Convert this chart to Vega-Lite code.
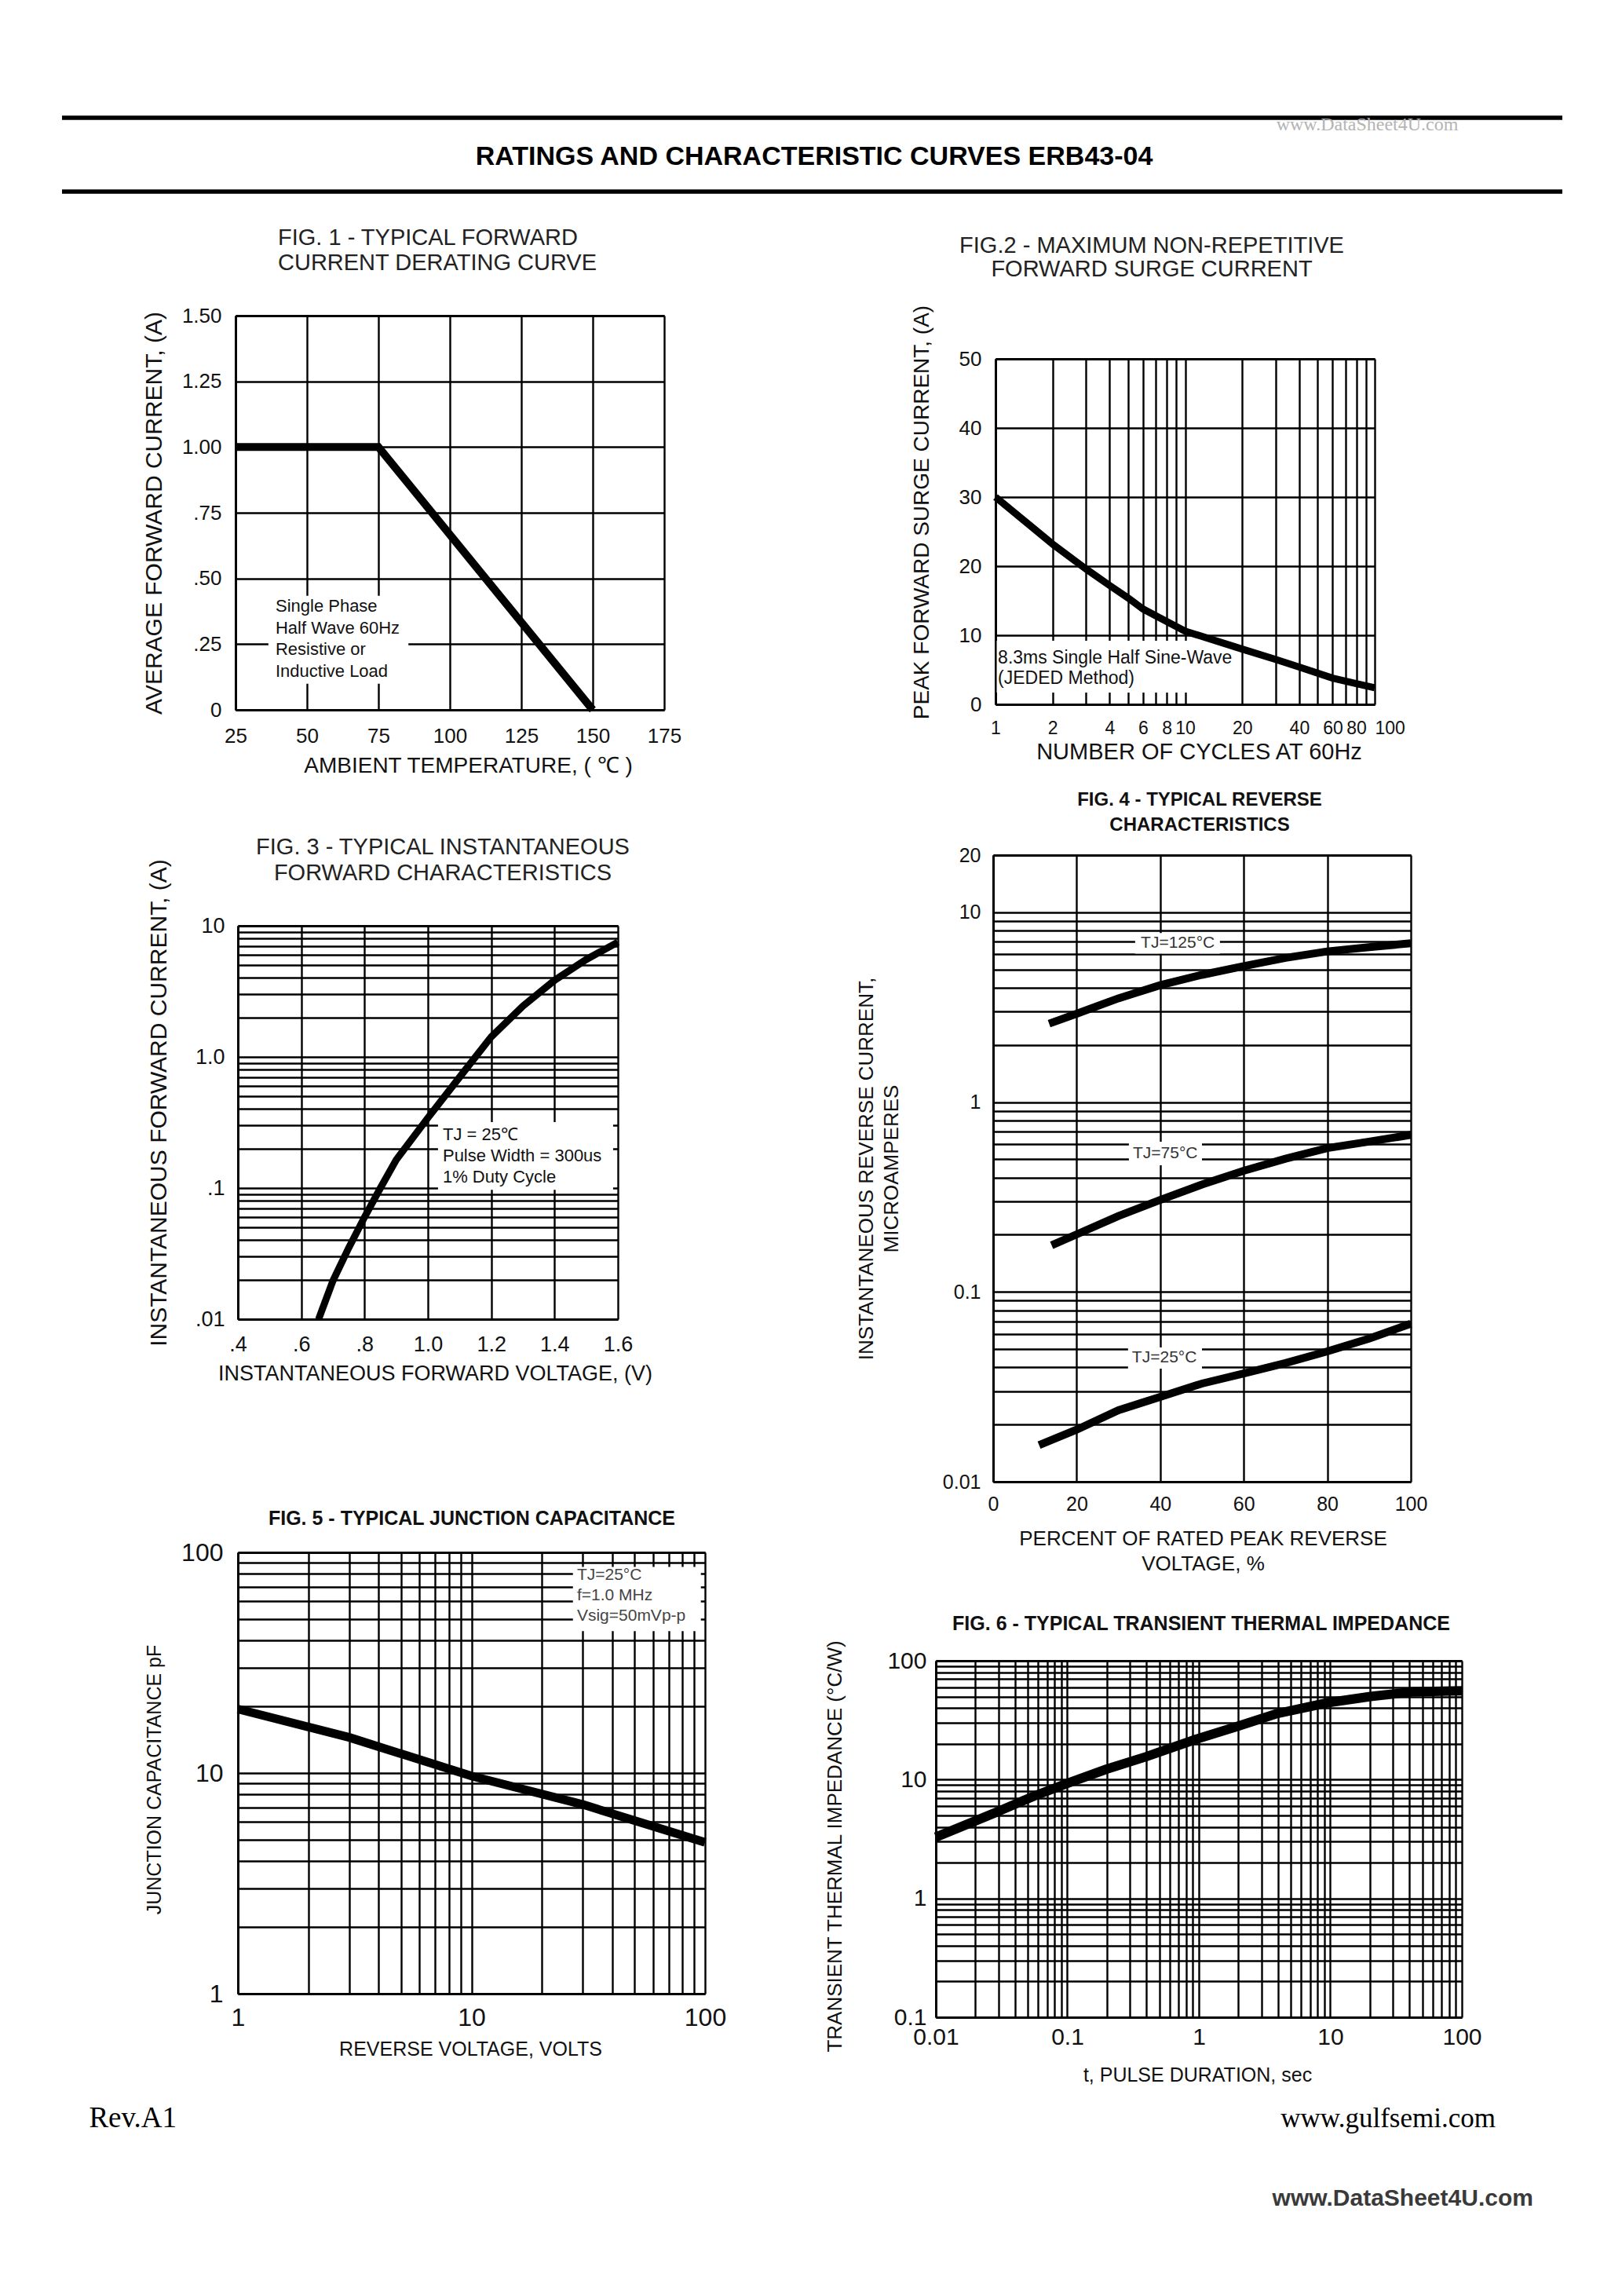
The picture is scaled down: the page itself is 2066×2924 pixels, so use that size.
{
  "$schema": "https://vega.github.io/schema/vega-lite/v6.json",
  "autosize": {"type": "pad"},
  "padding": {"left": 76, "top": 146, "right": 10, "bottom": 10},
  "background": "#ffffff",
  "config": {
    "view": {"stroke": null},
    "font": "Liberation Sans",
    "axis": {"grid": true, "gridColor": "#000", "gridWidth": 2.4, "gridOpacity": 1, "domain": true, "domainColor": "#000", "domainWidth": 3, "ticks": false, "labelColor": "#111", "titleColor": "#111", "labelFont": "Liberation Sans", "titleFont": "Liberation Sans", "titleFontWeight": "normal", "labelFlush": false, "labelOverlap": false, "labelBound": false},
    "title": {"font": "Liberation Sans", "fontWeight": "normal", "color": "#222", "frame": "group", "anchor": "start"}
  },
  "datasets": {
    "header_rules": [{"y": 1}, {"y": 0}],
    "header_title": [{"x": 0.5013, "y": 0.362, "label": "RATINGS AND CHARACTERISTIC CURVES ERB43-04"}],
    "header_mark": [{"x": 0.87, "y": 0.83, "label": "www.DataSheet4U.com"}],
    "footer_left": [{"x": 0.018, "y": 0.4615, "label": "Rev.A1"}],
    "footer_right": [{"x": 0.9555, "y": 0.4615, "label": "www.gulfsemi.com"}],
    "footer_mark": [{"x": 0.9806, "y": 0.0769, "label": "www.DataSheet4U.com"}],
    "fig1_curve": [{"x": 25, "y": 1}, {"x": 75, "y": 1}, {"x": 150, "y": 0}],
    "fig1_box": [{"x": 36.5, "x2": 85.5, "y": 0.099, "y2": 0.434}],
    "fig1_note": [
      {"x": 39, "y": 0.394, "label": "Single Phase"},
      {"x": 39, "y": 0.311, "label": "Half Wave 60Hz"},
      {"x": 39, "y": 0.23, "label": "Resistive or"},
      {"x": 39, "y": 0.146, "label": "Inductive Load"}
    ],
    "fig2_curve": [
      {"x": 1, "y": 30}, {"x": 2, "y": 23.2}, {"x": 3, "y": 19.6}, {"x": 4, "y": 17.2}, {"x": 5, "y": 15.4},
      {"x": 6, "y": 13.8}, {"x": 8, "y": 12}, {"x": 10, "y": 10.6}, {"x": 20, "y": 8}, {"x": 30, "y": 6.5},
      {"x": 40, "y": 5.4}, {"x": 60, "y": 3.8}, {"x": 80, "y": 3}, {"x": 100, "y": 2.4}
    ],
    "fig2_box": [{"x": 1.015, "x2": 18, "y": 1.7, "y2": 9.2}],
    "fig2_note": [
      {"x": 1.03, "y": 6.7, "label": "8.3ms Single Half Sine-Wave"},
      {"x": 1.03, "y": 3.75, "label": "(JEDED Method)"}
    ],
    "fig3_curve": [
      {"x": 0.655, "y": 0.01}, {"x": 0.7, "y": 0.0196}, {"x": 0.75, "y": 0.035}, {"x": 0.8, "y": 0.06},
      {"x": 0.85, "y": 0.1}, {"x": 0.9, "y": 0.164}, {"x": 1.0, "y": 0.343}, {"x": 1.1, "y": 0.7},
      {"x": 1.2, "y": 1.42}, {"x": 1.3, "y": 2.44}, {"x": 1.4, "y": 3.84}, {"x": 1.5, "y": 5.53}, {"x": 1.6, "y": 7.5}
    ],
    "fig3_box": [{"x": 1.032, "x2": 1.585, "y": 0.097, "y2": 0.318}],
    "fig3_note": [
      {"x": 1.047, "y": 0.255, "label": "TJ = 25℃"},
      {"x": 1.047, "y": 0.176, "label": "Pulse Width = 300us"},
      {"x": 1.047, "y": 0.121, "label": "1% Duty Cycle"}
    ],
    "fig4_curves": [
      {"series": "125", "x": 13.4, "y": 2.59}, {"series": "125", "x": 20, "y": 2.92}, {"series": "125", "x": 30, "y": 3.52},
      {"series": "125", "x": 40, "y": 4.13}, {"series": "125", "x": 50, "y": 4.68}, {"series": "125", "x": 60, "y": 5.2},
      {"series": "125", "x": 70, "y": 5.75}, {"series": "125", "x": 80, "y": 6.22}, {"series": "125", "x": 90, "y": 6.55},
      {"series": "125", "x": 100, "y": 6.86},
      {"series": "75", "x": 14, "y": 0.176}, {"series": "75", "x": 20, "y": 0.201}, {"series": "75", "x": 30, "y": 0.251},
      {"series": "75", "x": 40, "y": 0.305}, {"series": "75", "x": 50, "y": 0.368}, {"series": "75", "x": 60, "y": 0.435},
      {"series": "75", "x": 70, "y": 0.503}, {"series": "75", "x": 80, "y": 0.572}, {"series": "75", "x": 90, "y": 0.619},
      {"series": "75", "x": 100, "y": 0.672},
      {"series": "25", "x": 11, "y": 0.0156}, {"series": "25", "x": 20, "y": 0.0188}, {"series": "25", "x": 30, "y": 0.0238},
      {"series": "25", "x": 40, "y": 0.028}, {"series": "25", "x": 50, "y": 0.0329}, {"series": "25", "x": 60, "y": 0.0372},
      {"series": "25", "x": 70, "y": 0.0422}, {"series": "25", "x": 80, "y": 0.0486}, {"series": "25", "x": 90, "y": 0.0567},
      {"series": "25", "x": 100, "y": 0.068}
    ],
    "fig4_boxes": [
      {"x": 34, "x2": 54.3, "y": 6.05, "y2": 7.78},
      {"x": 32.5, "x2": 50, "y": 0.465, "y2": 0.618},
      {"x": 32.3, "x2": 50, "y": 0.0394, "y2": 0.051}
    ],
    "fig4_labels": [
      {"x": 44.2, "y": 6.88, "label": "TJ=125°C"},
      {"x": 41.2, "y": 0.536, "label": "TJ=75°C"},
      {"x": 41, "y": 0.0451, "label": "TJ=25°C"}
    ],
    "fig5_curve": [{"x": 1, "y": 19.5}, {"x": 3, "y": 14.5}, {"x": 10, "y": 9.7}, {"x": 30, "y": 7.2}, {"x": 100, "y": 4.85}],
    "fig5_box": [{"x": 27.2, "x2": 96, "y": 44, "y2": 86}],
    "fig5_note": [
      {"x": 28.3, "y": 78.8, "label": "TJ=25°C"},
      {"x": 28.3, "y": 63.7, "label": "f=1.0 MHz"},
      {"x": 28.3, "y": 51.5, "label": "Vsig=50mVp-p"}
    ],
    "fig6_curve": [
      {"x": 0.01, "y": 3.28}, {"x": 0.0197, "y": 4.46}, {"x": 0.0294, "y": 5.36}, {"x": 0.056, "y": 7.28},
      {"x": 0.1, "y": 9.3}, {"x": 0.197, "y": 12.2}, {"x": 0.398, "y": 15.6}, {"x": 0.96, "y": 21.9},
      {"x": 1.95, "y": 28}, {"x": 3.84, "y": 35.7}, {"x": 9.5, "y": 44.3}, {"x": 20.2, "y": 50},
      {"x": 43, "y": 54.9}, {"x": 100, "y": 55.9}
    ]
  },
  "columns": 2,
  "align": "each",
  "bounds": "flush",
  "spacing": 0,
  "concat": [
    {
      "width": 1113, "height": 94,
      "layer": [
        {"data": {"name": "header_rules"}, "mark": {"type": "rule", "color": "#000", "strokeWidth": 5.5},
         "encoding": {"x": {"datum": 0, "type": "quantitative", "scale": {"domain": [0, 1], "range": [0, 1911]}, "axis": null},
                      "x2": {"datum": 1},
                      "y": {"field": "y", "type": "quantitative", "scale": {"domain": [0, 1]}, "axis": null}}},
        {"data": {"name": "header_title"}, "mark": {"type": "text", "fontWeight": "bold", "fontSize": 34, "align": "center", "baseline": "alphabetic", "color": "#000"},
         "encoding": {"x": {"field": "x", "type": "quantitative", "scale": {"domain": [0, 1], "range": [0, 1911]}, "axis": null},
                      "y": {"field": "y", "type": "quantitative", "scale": {"domain": [0, 1]}, "axis": null},
                      "text": {"field": "label"}}},
        {"data": {"name": "header_mark"}, "mark": {"type": "text", "font": "Liberation Serif", "fontSize": 24, "align": "center", "baseline": "alphabetic", "color": "#b4b4b4"},
         "encoding": {"x": {"field": "x", "type": "quantitative", "scale": {"domain": [0, 1], "range": [0, 1911]}, "axis": null},
                      "y": {"field": "y", "type": "quantitative", "scale": {"domain": [0, 1]}, "axis": null},
                      "text": {"field": "label"}}}
      ]
    },
    {"width": 1, "height": 1, "mark": {"type": "text", "text": ""}},

    {
      "width": 767, "height": 660,
      "title": {"text": ["FIG. 1 - TYPICAL FORWARD", "CURRENT DERATING CURVE"], "align": "left", "dx": 275, "offset": -106, "fontSize": 29, "lineHeight": 32},
      "resolve": {"axis": {"x": "independent"}},
      "encoding": {
        "y": {"field": "y", "type": "quantitative", "scale": {"domain": [0, 1.5], "range": [660, 158], "nice": false, "zero": false},
              "axis": {"offset": -221, "values": [0, 0.25, 0.5, 0.75, 1, 1.25, 1.5], "labelExpr": "datum.value == 0 ? '0' : datum.value < 1 ? '.' + substring(format(datum.value, '.2f'), 2) : format(datum.value, '.2f')", "title": "AVERAGE FORWARD  CURRENT, (A)", "labelFontSize": 26, "labelPadding": 18, "titleFontSize": 30, "titleX": -104, "titleY": 409, "titleBaseline": "middle"}}
      },
      "layer": [
        {"data": {"name": "fig1_box"}, "mark": {"type": "rect", "color": "#fff"},
         "encoding": {"x": {"field": "x", "type": "quantitative", "scale": {"domain": [25, 175], "range": [221, 767], "nice": false, "zero": false},
                            "axis": {"orient": "bottom", "grid": false, "values": [25, 50, 75, 100, 125, 150, 175], "title": "AMBIENT TEMPERATURE, ( ℃ )", "labelFontSize": 26, "labelPadding": 20, "titleFontSize": 28, "titleX": 517, "titleY": 71, "titleBaseline": "middle"}},
                      "x2": {"field": "x2"}, "y2": {"field": "y2"}}},
        {"data": {"name": "fig1_curve"}, "mark": {"type": "line", "color": "#000", "strokeWidth": 10},
         "encoding": {"x": {"field": "x", "type": "quantitative", "scale": {"domain": [25, 175], "range": [221, 767], "nice": false, "zero": false},
                            "axis": {"orient": "top", "offset": -158, "grid": true, "labels": false, "title": null, "values": [25, 50, 75, 100, 125, 150, 175]}}}},
        {"data": {"name": "fig1_note"}, "mark": {"type": "text", "align": "left", "baseline": "middle", "fontSize": 22, "color": "#111"},
         "encoding": {"x": {"field": "x", "type": "quantitative", "scale": {"domain": [25, 175], "range": [221, 767], "nice": false, "zero": false}, "axis": null},
                      "text": {"field": "label"}}}
      ]
    },
    {
      "width": 559, "height": 653,
      "title": {"text": ["FIG.2  - MAXIMUM NON-REPETITIVE", "FORWARD SURGE CURRENT"], "align": "center", "dx": 275, "offset": -114, "fontSize": 29, "lineHeight": 30},
      "resolve": {"axis": {"x": "independent"}},
      "encoding": {
        "y": {"field": "y", "type": "quantitative", "scale": {"domain": [0, 50], "range": [653, 213], "nice": false, "zero": false},
              "axis": {"offset": -76, "values": [0, 10, 20, 30, 40, 50], "title": "PEAK FORWARD SURGE CURRENT, (A)", "labelFontSize": 26, "labelPadding": 18, "titleFontSize": 28, "titleX": -94, "titleY": 408, "titleBaseline": "middle"}}
      },
      "layer": [
        {"data": {"name": "fig2_box"}, "mark": {"type": "rect", "color": "#fff"},
         "encoding": {"x": {"field": "x", "type": "quantitative", "scale": {"type": "log", "domain": [1, 100], "range": [76, 559], "nice": false},
                            "axis": {"orient": "bottom", "grid": false, "values": [1, 2, 4, 6, 8, 10, 20, 40, 60, 80, 100], "labelAlign": {"condition": {"test": "datum.value === 100", "value": "left"}, "value": "center"}, "title": "NUMBER OF CYCLES AT 60Hz", "labelFontSize": 23, "labelPadding": 19, "titleFontSize": 29, "titleX": 335, "titleY": 60, "titleBaseline": "middle"}},
                      "x2": {"field": "x2"}, "y2": {"field": "y2"}}},
        {"data": {"name": "fig2_curve"}, "mark": {"type": "line", "color": "#000", "strokeWidth": 9},
         "encoding": {"x": {"field": "x", "type": "quantitative", "scale": {"type": "log", "domain": [1, 100], "range": [76, 559], "nice": false},
                            "axis": {"orient": "top", "offset": -213, "grid": true, "labels": false, "title": null, "values": [1, 2, 3, 4, 5, 6, 7, 8, 9, 10, 20, 30, 40, 50, 60, 70, 80, 90, 100]}}}},
        {"data": {"name": "fig2_note"}, "mark": {"type": "text", "align": "left", "baseline": "middle", "fontSize": 23, "color": "#111"},
         "encoding": {"x": {"field": "x", "type": "quantitative", "scale": {"type": "log", "domain": [1, 100], "range": [76, 559], "nice": false}, "axis": null},
                      "text": {"field": "label"}}}
      ]
    },

    {
      "width": 708, "height": 776,
      "title": {"text": ["FIG. 3 - TYPICAL INSTANTANEOUS", "FORWARD CHARACTERISTICS"], "align": "center", "dx": 485, "offset": -223, "fontSize": 29, "lineHeight": 33},
      "resolve": {"axis": {"x": "independent"}},
      "encoding": {
        "y": {"field": "y", "type": "quantitative", "scale": {"type": "log", "domain": [0.01, 10], "range": [776, 275], "nice": false},
              "axis": {"offset": -224, "values": [0.01, 0.02, 0.03, 0.04, 0.05, 0.06, 0.07, 0.08, 0.09, 0.1, 0.2, 0.3, 0.4, 0.5, 0.6, 0.7, 0.8, 0.9, 1, 2, 3, 4, 5, 6, 7, 8, 9, 10], "labelExpr": "datum.value === 0.01 ? '.01' : datum.value === 0.1 ? '.1' : datum.value === 1 ? '1.0' : datum.value === 10 ? '10' : ''", "title": "INSTANTANEOUS FORWARD CURRENT, (A)", "labelFontSize": 27, "labelPadding": 17, "titleFontSize": 30, "titleX": -101, "titleY": 500, "titleBaseline": "middle"}}
      },
      "layer": [
        {"data": {"name": "fig3_box"}, "mark": {"type": "rect", "color": "#fff"},
         "encoding": {"x": {"field": "x", "type": "quantitative", "scale": {"domain": [0.4, 1.6], "range": [224, 708], "nice": false, "zero": false},
                            "axis": {"orient": "bottom", "grid": false, "values": [0.4, 0.6, 0.8, 1.0, 1.2, 1.4, 1.6], "labelExpr": "datum.value < 1 ? '.' + substring(format(datum.value, '.1f'), 2) : format(datum.value, '.1f')", "title": "INSTANTANEOUS FORWARD VOLTAGE, (V)", "labelFontSize": 27, "labelPadding": 19, "titleFontSize": 27, "titleX": 475, "titleY": 69, "titleBaseline": "middle"}},
                      "x2": {"field": "x2"}, "y2": {"field": "y2"}}},
        {"data": {"name": "fig3_curve"}, "mark": {"type": "line", "color": "#000", "strokeWidth": 9},
         "encoding": {"x": {"field": "x", "type": "quantitative", "scale": {"domain": [0.4, 1.6], "range": [224, 708], "nice": false, "zero": false},
                            "axis": {"orient": "top", "offset": -275, "grid": true, "labels": false, "title": null, "values": [0.4, 0.6, 0.8, 1.0, 1.2, 1.4, 1.6]}}}},
        {"data": {"name": "fig3_note"}, "mark": {"type": "text", "align": "left", "baseline": "middle", "fontSize": 22, "color": "#111"},
         "encoding": {"x": {"field": "x", "type": "quantitative", "scale": {"domain": [0.4, 1.6], "range": [224, 708], "nice": false, "zero": false}, "axis": null},
                      "text": {"field": "label"}}}
      ]
    },
    {
      "width": 605, "height": 983,
      "title": {"text": ["FIG. 4 - TYPICAL REVERSE", "CHARACTERISTICS"], "align": "center", "dx": 336, "offset": -159, "fontSize": 24, "fontWeight": "bold", "lineHeight": 32, "color": "#111"},
      "resolve": {"axis": {"x": "independent"}},
      "encoding": {
        "y": {"field": "y", "type": "quantitative", "scale": {"type": "log", "domain": [0.01, 20], "range": [983, 185], "nice": false},
              "axis": {"offset": -73, "values": [0.01, 0.02, 0.03, 0.04, 0.05, 0.06, 0.07, 0.08, 0.09, 0.1, 0.2, 0.3, 0.4, 0.5, 0.6, 0.7, 0.8, 0.9, 1, 2, 3, 4, 5, 6, 7, 8, 9, 10, 20], "labelExpr": "indexof([0.01, 0.1, 1, 10, 20], datum.value) >= 0 ? '' + datum.value : ''", "title": ["INSTANTANEOUS REVERSE CURRENT,", "MICROAMPERES"], "labelFontSize": 25, "labelPadding": 16, "titleFontSize": 26, "titleLineHeight": 32, "titleX": -162, "titleY": 584, "titleBaseline": "middle"}}
      },
      "layer": [
        {"data": {"name": "fig4_boxes"}, "mark": {"type": "rect", "color": "#fff"},
         "encoding": {"x": {"field": "x", "type": "quantitative", "scale": {"domain": [0, 100], "range": [73, 605], "nice": false, "zero": false},
                            "axis": {"orient": "bottom", "grid": false, "values": [0, 20, 40, 60, 80, 100], "title": ["PERCENT OF RATED PEAK REVERSE", "VOLTAGE, %"], "labelFontSize": 25, "labelPadding": 16, "titleFontSize": 26, "titleLineHeight": 32, "titleX": 340, "titleY": 72, "titleBaseline": "middle"}},
                      "x2": {"field": "x2"}, "y2": {"field": "y2"}}},
        {"data": {"name": "fig4_curves"}, "mark": {"type": "line", "color": "#000", "strokeWidth": 10},
         "encoding": {"x": {"field": "x", "type": "quantitative", "scale": {"domain": [0, 100], "range": [73, 605], "nice": false, "zero": false},
                            "axis": {"orient": "top", "offset": -185, "grid": true, "labels": false, "title": null, "values": [0, 20, 40, 60, 80, 100]}},
                      "detail": {"field": "series", "type": "nominal"}}},
        {"data": {"name": "fig4_labels"}, "mark": {"type": "text", "align": "center", "baseline": "middle", "fontSize": 21, "color": "#333"},
         "encoding": {"x": {"field": "x", "type": "quantitative", "scale": {"domain": [0, 100], "range": [73, 605], "nice": false, "zero": false}, "axis": null},
                      "text": {"field": "label"}}}
      ]
    },

    {
      "width": 819, "height": 652,
      "title": {"text": "FIG. 5 - TYPICAL JUNCTION CAPACITANCE", "align": "center", "dx": 522, "offset": -60, "fontSize": 25, "fontWeight": "bold", "color": "#111"},
      "resolve": {"axis": {"x": "independent"}},
      "encoding": {
        "y": {"field": "y", "type": "quantitative", "scale": {"type": "log", "domain": [1, 100], "range": [652, 90], "nice": false},
              "axis": {"offset": -224, "values": [1, 2, 3, 4, 5, 6, 7, 8, 9, 10, 20, 30, 40, 50, 60, 70, 80, 90, 100], "labelExpr": "indexof([1, 10, 100], datum.value) >= 0 ? '' + datum.value : ''", "title": "JUNCTION CAPACITANCE pF", "labelFontSize": 32, "labelPadding": 19, "titleFontSize": 25, "titleX": -107, "titleY": 379, "titleBaseline": "middle"}}
      },
      "layer": [
        {"data": {"name": "fig5_box"}, "mark": {"type": "rect", "color": "#fff"},
         "encoding": {"x": {"field": "x", "type": "quantitative", "scale": {"type": "log", "domain": [1, 100], "range": [224, 819], "nice": false},
                            "axis": {"orient": "bottom", "grid": false, "values": [1, 10, 100], "title": "REVERSE VOLTAGE, VOLTS", "labelFontSize": 32, "labelPadding": 15, "titleFontSize": 25, "titleX": 520, "titleY": 70, "titleBaseline": "middle"}},
                      "x2": {"field": "x2"}, "y2": {"field": "y2"}}},
        {"data": {"name": "fig5_curve"}, "mark": {"type": "line", "color": "#000", "strokeWidth": 11},
         "encoding": {"x": {"field": "x", "type": "quantitative", "scale": {"type": "log", "domain": [1, 100], "range": [224, 819], "nice": false},
                            "axis": {"orient": "top", "offset": -90, "grid": true, "labels": false, "title": null, "values": [1, 2, 3, 4, 5, 6, 7, 8, 9, 10, 20, 30, 40, 50, 60, 70, 80, 90, 100]}}}},
        {"data": {"name": "fig5_note"}, "mark": {"type": "text", "align": "left", "baseline": "middle", "fontSize": 21, "color": "#444"},
         "encoding": {"x": {"field": "x", "type": "quantitative", "scale": {"type": "log", "domain": [1, 100], "range": [224, 819], "nice": false}, "axis": null},
                      "text": {"field": "label"}}}
      ]
    },
    {
      "width": 670, "height": 682,
      "title": {"text": "FIG. 6 - TYPICAL TRANSIENT THERMAL IMPEDANCE", "align": "center", "dx": 338, "offset": -194, "fontSize": 25, "fontWeight": "bold", "color": "#111"},
      "resolve": {"axis": {"x": "independent"}},
      "encoding": {
        "y": {"field": "y", "type": "quantitative", "scale": {"type": "log", "domain": [0.1, 100], "range": [682, 228], "nice": false},
              "axis": {"values": [0.1, 0.2, 0.3, 0.4, 0.5, 0.6, 0.7, 0.8, 0.9, 1, 2, 3, 4, 5, 6, 7, 8, 9, 10, 20, 30, 40, 50, 60, 70, 80, 90, 100], "labelExpr": "indexof([0.1, 1, 10, 100], datum.value) >= 0 ? '' + datum.value : ''", "title": "TRANSIENT THERMAL IMPEDANCE (°C/W)", "labelFontSize": 30, "labelPadding": 12, "titleFontSize": 26, "titleX": -129, "titleY": 464, "titleBaseline": "middle"}}
      },
      "layer": [
        {"data": {"name": "fig6_curve"}, "mark": {"type": "line", "color": "#000", "strokeWidth": 12},
         "encoding": {"x": {"field": "x", "type": "quantitative", "scale": {"type": "log", "domain": [0.01, 100], "range": [0, 670], "nice": false},
                            "axis": {"orient": "bottom", "grid": false, "values": [0.01, 0.1, 1, 10, 100], "title": "t, PULSE DURATION, sec", "labelFontSize": 30, "labelPadding": 10, "titleFontSize": 25, "titleX": 333, "titleY": 73, "titleBaseline": "middle"}}}},
        {"data": {"name": "fig6_curve"}, "mark": {"type": "text", "text": ""},
         "encoding": {"x": {"field": "x", "type": "quantitative", "scale": {"type": "log", "domain": [0.01, 100], "range": [0, 670], "nice": false},
                            "axis": {"orient": "top", "offset": -228, "grid": true, "labels": false, "title": null, "values": [0.01, 0.02, 0.03, 0.04, 0.05, 0.06, 0.07, 0.08, 0.09, 0.1, 0.2, 0.3, 0.4, 0.5, 0.6, 0.7, 0.8, 0.9, 1, 2, 3, 4, 5, 6, 7, 8, 9, 10, 20, 30, 40, 50, 60, 70, 80, 90, 100]}}}}
      ]
    },

    {
      "width": 1113, "height": 260,
      "layer": [
        {"data": {"name": "footer_left"}, "mark": {"type": "text", "font": "Liberation Serif", "fontSize": 37, "align": "left", "baseline": "alphabetic", "color": "#000"},
         "encoding": {"x": {"field": "x", "type": "quantitative", "scale": {"domain": [0, 1], "range": [0, 1911]}, "axis": null},
                      "y": {"field": "y", "type": "quantitative", "scale": {"domain": [0, 1]}, "axis": null},
                      "text": {"field": "label"}}},
        {"data": {"name": "footer_right"}, "mark": {"type": "text", "font": "Liberation Serif", "fontSize": 35, "align": "right", "baseline": "alphabetic", "color": "#000"},
         "encoding": {"x": {"field": "x", "type": "quantitative", "scale": {"domain": [0, 1], "range": [0, 1911]}, "axis": null},
                      "y": {"field": "y", "type": "quantitative", "scale": {"domain": [0, 1]}, "axis": null},
                      "text": {"field": "label"}}},
        {"data": {"name": "footer_mark"}, "mark": {"type": "text", "fontWeight": "bold", "fontSize": 30, "align": "right", "baseline": "alphabetic", "color": "#3a3a3a"},
         "encoding": {"x": {"field": "x", "type": "quantitative", "scale": {"domain": [0, 1], "range": [0, 1911]}, "axis": null},
                      "y": {"field": "y", "type": "quantitative", "scale": {"domain": [0, 1]}, "axis": null},
                      "text": {"field": "label"}}}
      ]
    },
    {"width": 1, "height": 1, "mark": {"type": "text", "text": ""}}
  ]
}
